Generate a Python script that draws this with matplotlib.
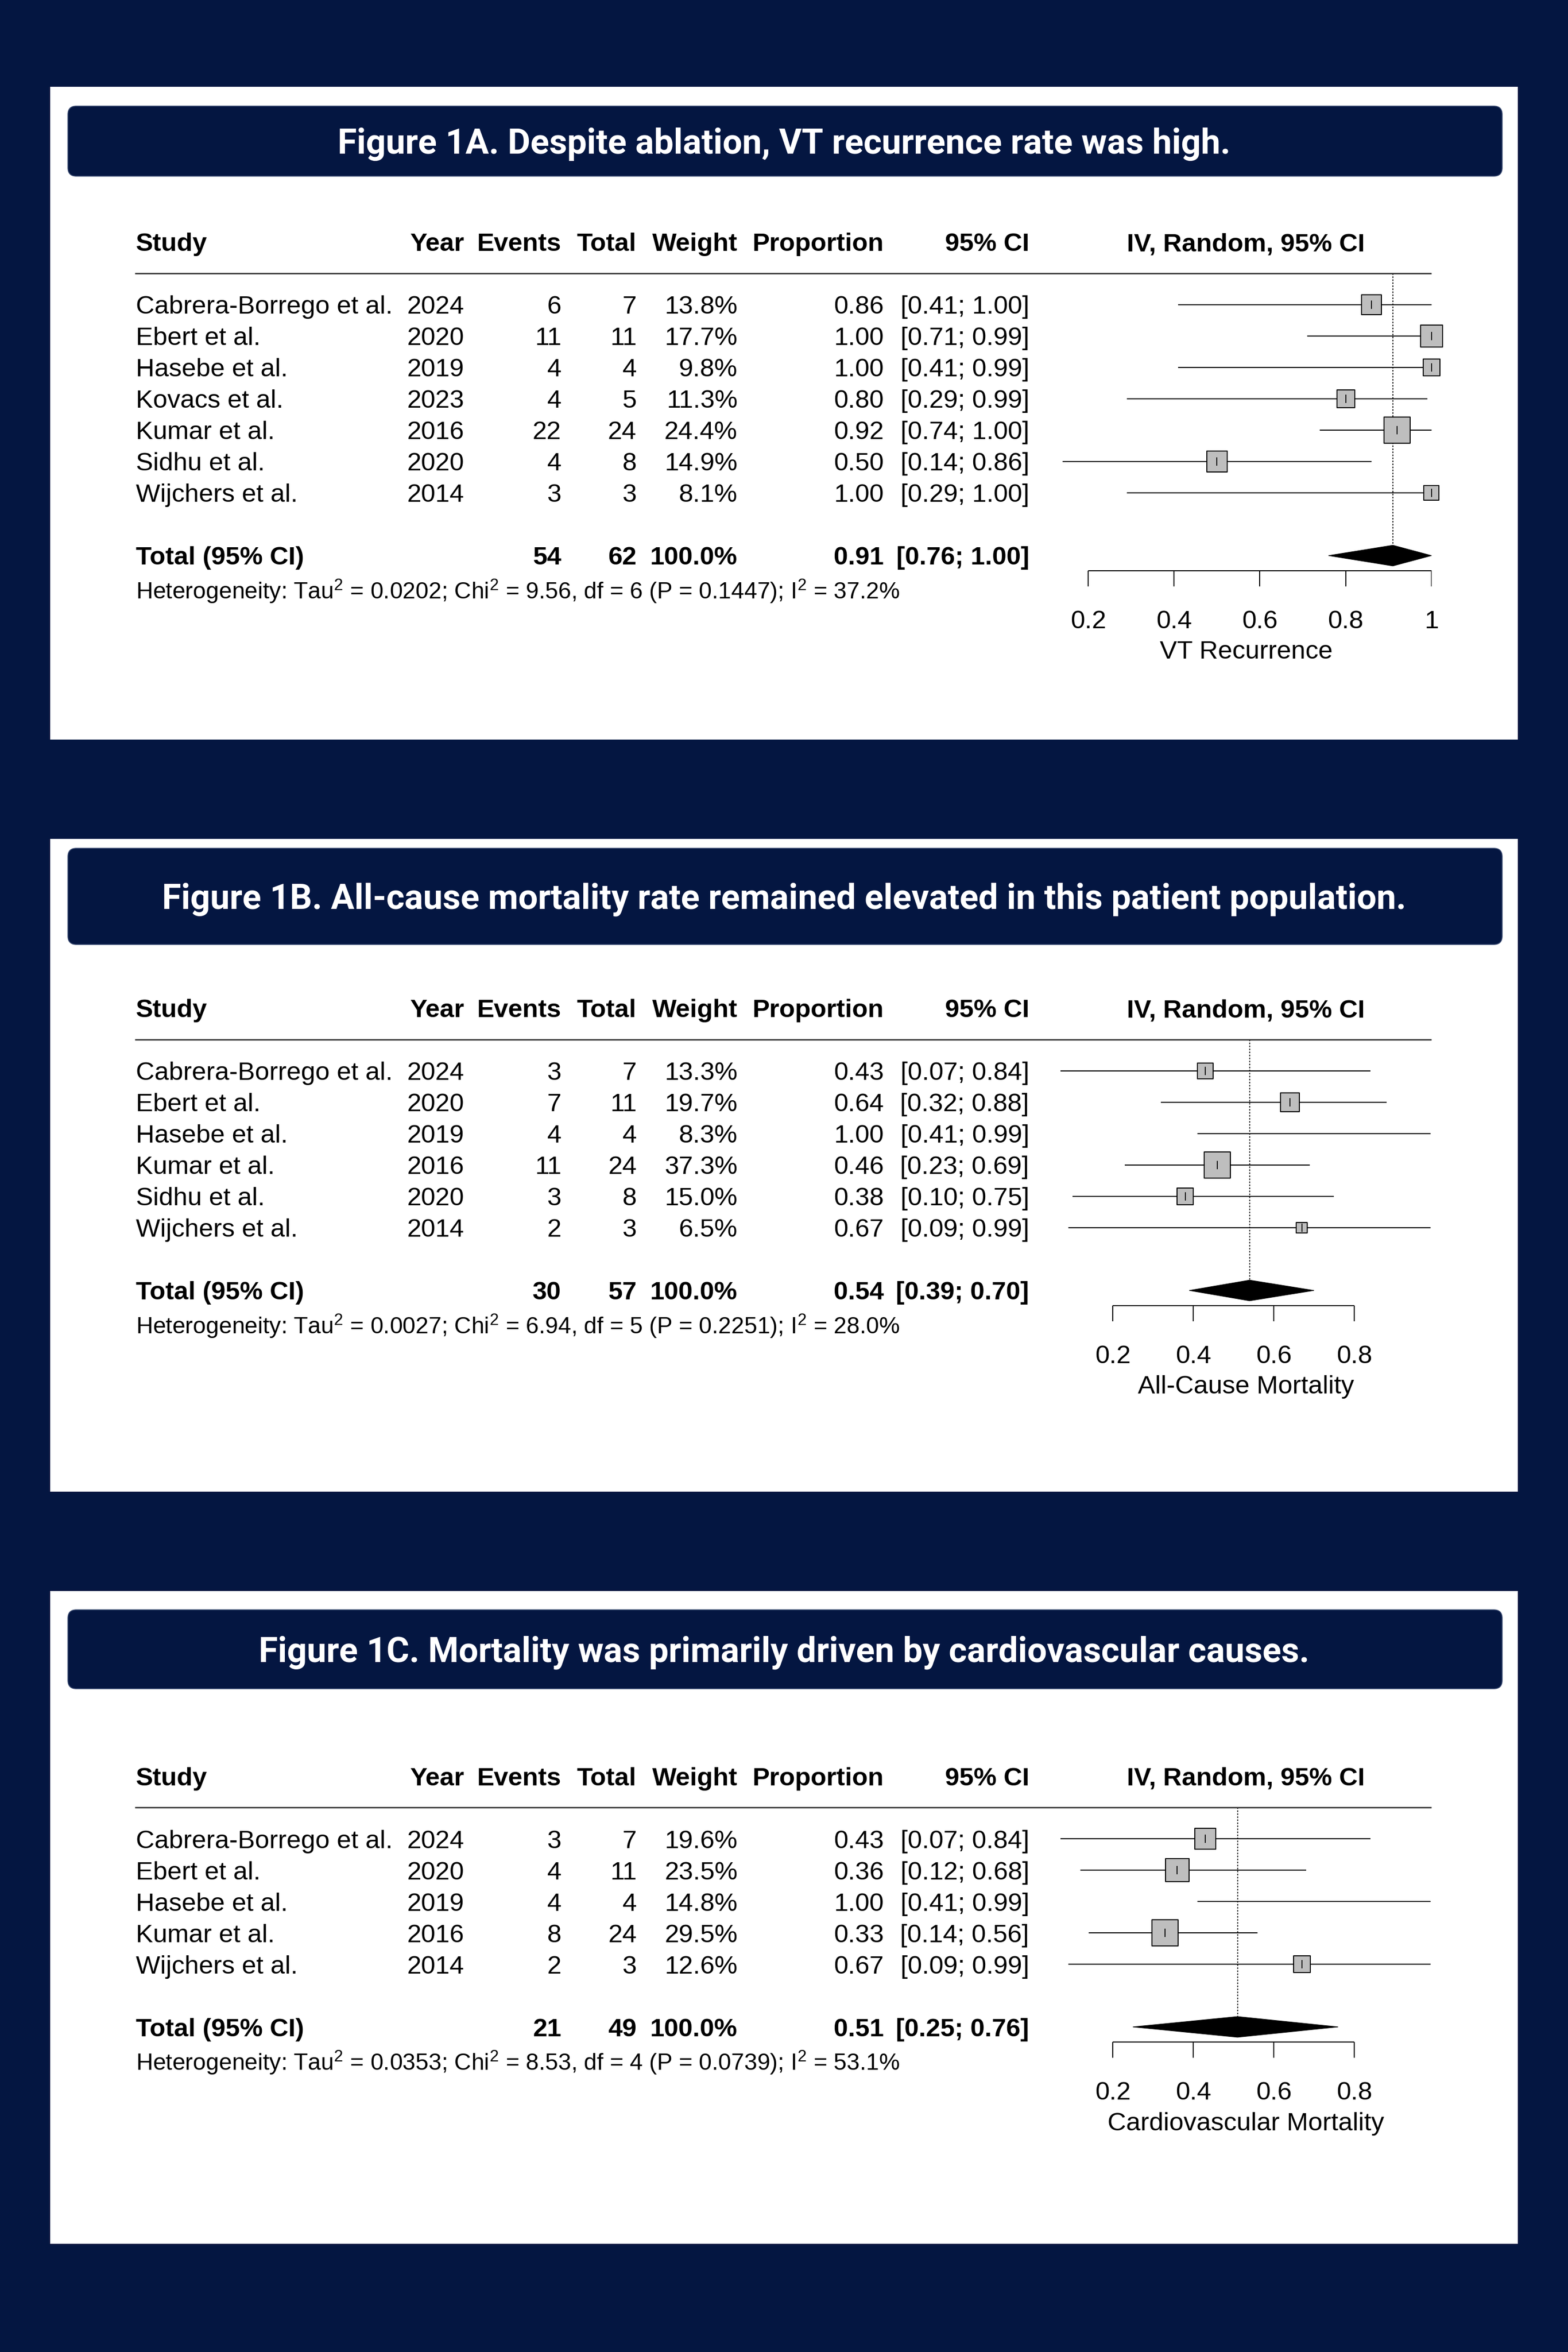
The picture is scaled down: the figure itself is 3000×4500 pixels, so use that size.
"""
Forest plots for VT recurrence, all-cause and cardiovascular mortality.
"""

import numpy as np
import matplotlib
matplotlib.use("Agg")
import matplotlib.pyplot as plt
from matplotlib.patches import Rectangle, FancyBboxPatch, Polygon

plt.rcParams["font.family"] = ["Liberation Sans", "DejaVu Sans"]
plt.rcParams["mathtext.fontset"] = "custom"
plt.rcParams["mathtext.rm"] = "Liberation Sans"
plt.rcParams["mathtext.it"] = "Liberation Sans:italic"
plt.rcParams["mathtext.bf"] = "Liberation Sans:bold"

# ---- Figure 1A: VT recurrence
studies_a = ["Cabrera-Borrego et al.", "Ebert et al.", "Hasebe et al.", "Kovacs et al.",
             "Kumar et al.", "Sidhu et al.", "Wijchers et al."]
years_a = [2024, 2020, 2019, 2023, 2016, 2020, 2014]
events_a = [6, 11, 4, 4, 22, 4, 3]
totals_a = [7, 11, 4, 5, 24, 8, 3]
weights_a = [13.8, 17.7, 9.8, 11.3, 24.4, 14.9, 8.1]
props_a = [0.86, 1.00, 1.00, 0.80, 0.92, 0.50, 1.00]
lower_a = [0.41, 0.71, 0.41, 0.29, 0.74, 0.14, 0.29]
upper_a = [1.00, 0.99, 0.99, 0.99, 1.00, 0.86, 1.00]
pooled_a = [0.91, 0.76, 1.00]
sum_a = [54, 62]
het_a = ["0.0202", "9.56", "6", "0.1447", "37.2%"]
ticks_a = [0.2, 0.4, 0.6, 0.8, 1.0]
tick_labels_a = ["0.2", "0.4", "0.6", "0.8", "1"]

# ---- Figure 1B: all-cause mortality
studies_b = ["Cabrera-Borrego et al.", "Ebert et al.", "Hasebe et al.",
             "Kumar et al.", "Sidhu et al.", "Wijchers et al."]
years_b = [2024, 2020, 2019, 2016, 2020, 2014]
events_b = [3, 7, 4, 11, 3, 2]
totals_b = [7, 11, 4, 24, 8, 3]
weights_b = [13.3, 19.7, 8.3, 37.3, 15.0, 6.5]
props_b = [0.43, 0.64, 1.00, 0.46, 0.38, 0.67]
lower_b = [0.07, 0.32, 0.41, 0.23, 0.10, 0.09]
upper_b = [0.84, 0.88, 0.99, 0.69, 0.75, 0.99]
pooled_b = [0.54, 0.39, 0.70]
sum_b = [30, 57]
het_b = ["0.0027", "6.94", "5", "0.2251", "28.0%"]
ticks_b = [0.2, 0.4, 0.6, 0.8]
tick_labels_b = ["0.2", "0.4", "0.6", "0.8"]

# ---- Figure 1C: cardiovascular mortality
studies_c = ["Cabrera-Borrego et al.", "Ebert et al.", "Hasebe et al.",
             "Kumar et al.", "Wijchers et al."]
years_c = [2024, 2020, 2019, 2016, 2014]
events_c = [3, 4, 4, 8, 2]
totals_c = [7, 11, 4, 24, 3]
weights_c = [19.6, 23.5, 14.8, 29.5, 12.6]
props_c = [0.43, 0.36, 1.00, 0.33, 0.67]
lower_c = [0.07, 0.12, 0.41, 0.14, 0.09]
upper_c = [0.84, 0.68, 0.99, 0.56, 0.99]
pooled_c = [0.51, 0.25, 0.76]
sum_c = [21, 49]
het_c = ["0.0353", "8.53", "4", "0.0739", "53.1%"]
ticks_c = [0.2, 0.4, 0.6, 0.8]
tick_labels_c = ["0.2", "0.4", "0.6", "0.8"]

titles = [
    "Figure 1A. Despite ablation, VT recurrence rate was high.",
    "Figure 1B. All-cause mortality rate remained elevated in this patient population.",
    "Figure 1C. Mortality was primarily driven by cardiovascular causes.",
]
xlabels = ["VT Recurrence", "All-Cause Mortality", "Cardiovascular Mortality"]

NAVY = "#041641"
BOX_GRAY = "#BEBEBE"
W, H = 3000, 4500
ROW = 60.0
FS = 35.5
FS_HET = 32
BOX_MAX = 36  # points, side of the largest weight box

fig = plt.figure(figsize=(W / 100, H / 100), dpi=100)
fig.patch.set_facecolor(NAVY)

bg = fig.add_axes([0, 0, 1, 1])
bg.set_xlim(0, W)
bg.set_ylim(H, 0)
bg.axis("off")

# white cards, title bars (pixel layout)
cards = [(166, 1415, 203, 337), (1605, 2854, 1623, 1807), (3044, 4293, 3080, 3231)]
for (top, bottom, bar_top, bar_bottom), title in zip(cards, titles):
    bg.add_patch(Rectangle((96, top), 2808, bottom - top, facecolor="white",
                           edgecolor="none"))
    bg.add_patch(FancyBboxPatch((130, bar_top), 2744, bar_bottom - bar_top,
                                boxstyle="round,pad=0,rounding_size=16",
                                facecolor=NAVY, edgecolor="#34456d", linewidth=1.2))
    bg.text(1500, (bar_top + bar_bottom) / 2 + 6, title, color="white",
            fontsize=48, fontweight="bold", family=["Roboto", "DejaVu Sans"],
            ha="center", va="center")


def draw_forest(first_px, x02_px, px_unit, studies, years, events, totals,
                weights, props, lower, upper, pooled, sums, het, ticks,
                tick_labels, xlabel):
    n = len(studies)
    total_row = n + 1
    top_row, bottom_row = -2.8, total_row + 3.7
    left_px, right_px = 258, 2739
    top_px = first_px + top_row * ROW
    bottom_px = first_px + bottom_row * ROW

    ax = fig.add_axes([left_px / W, 1 - bottom_px / H,
                       (right_px - left_px) / W, (bottom_px - top_px) / H])

    def v(px):
        return 0.2 + (px - x02_px) / px_unit

    xmax = v(right_px)
    ax.set_xlim(v(left_px), xmax)
    ax.set_ylim(bottom_row, top_row)
    ax.axis("off")

    rows = np.arange(n)
    kw = dict(fontsize=FS, va="center_baseline", color="black")
    bold = dict(kw, fontweight="bold")

    # column headers
    ax.text(v(260), -2, "Study", ha="left", **bold)
    heads = [("Year", 888), ("Events", 1074), ("Total", 1218),
             ("Weight", 1411), ("Proportion", 1691), ("95% CI", 1969)]
    for label, px in heads:
        ax.text(v(px), -2, label, ha="right", **bold)
    ax.text(v(2384), -2, "IV, Random, 95% CI", ha="center", **bold)
    ax.hlines(-1.0, v(258), xmax, color="#333333", linewidth=1.9)

    # study rows
    for i in range(n):
        ax.text(v(260), i, studies[i], ha="left", **kw)
        ax.text(v(888), i, str(years[i]), ha="right", **kw)
        ax.text(v(1074), i, str(events[i]), ha="right", **kw)
        ax.text(v(1218), i, str(totals[i]), ha="right", **kw)
        ax.text(v(1411), i, f"{weights[i]:.1f}%", ha="right", **kw)
        ax.text(v(1691), i, f"{props[i]:.2f}", ha="right", **kw)
        ax.text(v(1969), i, f"[{lower[i]:.2f}; {upper[i]:.2f}]", ha="right", **kw)

    # pooled row
    ax.text(v(260), total_row, "Total (95% CI)", ha="left", **bold)
    ax.text(v(1074), total_row, str(sums[0]), ha="right", **bold)
    ax.text(v(1218), total_row, str(sums[1]), ha="right", **bold)
    ax.text(v(1411), total_row, "100.0%", ha="right", **bold)
    ax.text(v(1691), total_row, f"{pooled[0]:.2f}", ha="right", **bold)
    ax.text(v(1969), total_row, f"[{pooled[1]:.2f}; {pooled[2]:.2f}]",
            ha="right", **bold)
    het_text = (f"Heterogeneity: Tau$^2$ = {het[0]}; Chi$^2$ = {het[1]}, "
                f"df = {het[2]} (P = {het[3]}); I$^2$ = {het[4]}")
    ax.text(v(260), total_row + 1.05, het_text, ha="left",
            fontsize=FS_HET, va="center_baseline")

    # confidence intervals and weight boxes
    ax.hlines(rows, lower, upper, color="black", linewidth=1.4, zorder=2,
              clip_on=False)
    props = np.array(props)
    weights = np.array(weights)
    shown = props <= xmax + 1e-9
    sides = BOX_MAX * np.sqrt(weights / weights.max())
    ax.scatter(props[shown], rows[shown], marker="s", s=sides[shown] ** 2,
               facecolor=BOX_GRAY, edgecolor="black", linewidths=1.4,
               zorder=3, clip_on=False)
    ax.vlines(props[shown], rows[shown] - 0.13, rows[shown] + 0.13,
              color="black", linewidth=1.3, zorder=4, clip_on=False)

    # pooled estimate
    half = 0.33
    ax.vlines(pooled[0], -1.0, total_row - half, color="black", linewidth=1.3,
              linestyles=(0, (1.6, 1.6)), zorder=1)
    ax.add_patch(Polygon([[pooled[1], total_row], [pooled[0], total_row - half],
                          [pooled[2], total_row], [pooled[0], total_row + half]],
                         closed=True, facecolor="black", edgecolor="black",
                         linewidth=0.8, clip_on=False, zorder=3))

    # x axis
    ay = total_row + 0.48
    ax.hlines(ay, ticks[0], ticks[-1], color="black", linewidth=1.4)
    ax.vlines(ticks, ay, ay + 0.5, color="black", linewidth=1.4)
    for t, lab in zip(ticks, tick_labels):
        ax.text(t, total_row + 2.02, lab, ha="center", **kw)
    ax.text(v(2384), total_row + 3.0, xlabel, ha="center", **kw)


draw_forest(583, 2082, 821, studies_a, years_a, events_a, totals_a, weights_a,
            props_a, lower_a, upper_a, pooled_a, sum_a, het_a, ticks_a,
            tick_labels_a, xlabels[0])
draw_forest(2049, 2129, 770, studies_b, years_b, events_b, totals_b, weights_b,
            props_b, lower_b, upper_b, pooled_b, sum_b, het_b, ticks_b,
            tick_labels_b, xlabels[1])
draw_forest(3518, 2129, 770, studies_c, years_c, events_c, totals_c, weights_c,
            props_c, lower_c, upper_c, pooled_c, sum_c, het_c, ticks_c,
            tick_labels_c, xlabels[2])

fig.savefig("out.png", dpi=100, facecolor=NAVY)
plt.close(fig)
